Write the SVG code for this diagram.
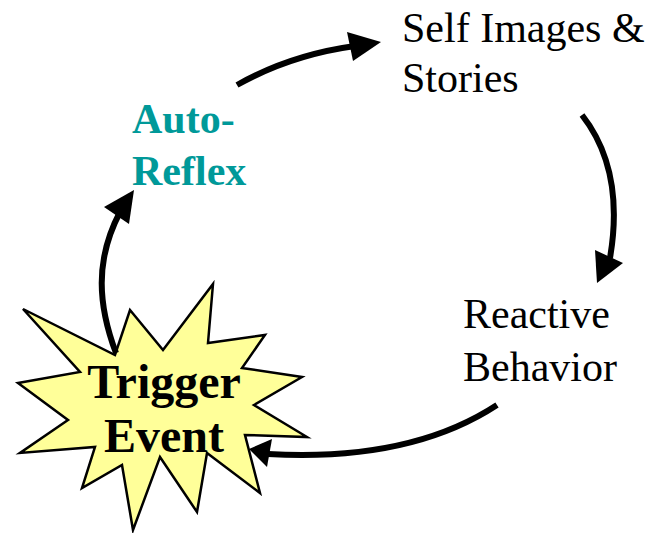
<svg xmlns="http://www.w3.org/2000/svg" width="650" height="533" viewBox="0 0 650 533">
<style>
.conn{fill:none;stroke:#000;stroke-width:6;stroke-linecap:butt}
.head{fill:#000;stroke:none}
.lbl{font-family:"Liberation Serif","Times New Roman",serif;font-size:42px;fill:#000}
.bold{font-weight:bold}
</style>
<rect width="650" height="533" fill="#fff"/>
<g id="trigger">
<polygon points="23,309 115,355 130,310 163,350 213,284 208,343 265,335 242,368 302,377 254,405 307,437 245,435 260,493 207,453 197,512 160,457 133,530 122,465 82,488 95,447 20,453 68,420 18,383 80,372" fill="#FFFF99" stroke="#000" stroke-width="2.5" stroke-linejoin="miter"/>
<text class="lbl bold" style="font-size:48px" x="164" y="398" text-anchor="middle">Trigger</text>
<text class="lbl bold" style="font-size:48px" x="164" y="452" text-anchor="middle">Event</text>
</g>
<g id="autoreflex">
<text class="lbl bold" fill="#009999" style="fill:#009999" x="132" y="133">Auto-</text>
<text class="lbl bold" style="fill:#009999" x="132" y="185">Reflex</text>
</g>
<g id="selfimages">
<text class="lbl" x="402" y="42">Self Images &amp;</text>
<text class="lbl" x="402" y="92">Stories</text>
</g>
<g id="reactive">
<text class="lbl" x="463" y="328">Reactive</text>
<text class="lbl" x="463" y="381">Behavior</text>
</g>
<g id="connectors">
<path class="conn" d="M237,85 Q290,55 355,46"/>
<polygon class="head" points="347,32 381,42 353,61"/>
<path class="conn" d="M582,115 Q625,170 610,258"/>
<polygon class="head" points="595,250 623,263 597,283"/>
<path class="conn" d="M497,405 Q410,462 268,454"/>
<polygon class="head" points="272,439 249,449 267,467"/>
<path class="conn" d="M116,353 Q96,300 104,258 Q108,235 120,212"/>
<polygon class="head" points="104,207 134,190 129,224"/>
</g>
</svg>
